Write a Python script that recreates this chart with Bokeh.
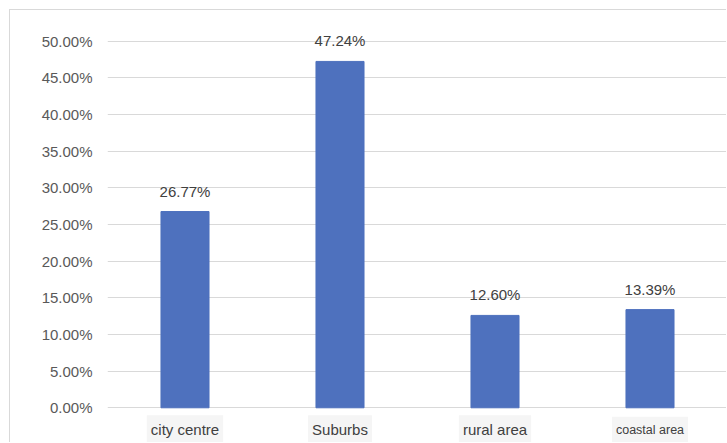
from bokeh.plotting import figure
from bokeh.models import ColumnDataSource, LabelSet, Label, NumeralTickFormatter, FactorRange, Range1d, FixedTicker
from bokeh.core.properties import value
from bokeh.embed import file_html
from bokeh.resources import INLINE

categories = ["city centre", "Suburbs", "rural area", "coastal area"]
shares = [0.2677, 0.4724, 0.1260, 0.1339]
value_labels = ["26.77%", "47.24%", "12.60%", "13.39%"]
category_font_sizes = ["15px", "15px", "15px", "12.5px"]
y_ticks = [0.0, 0.05, 0.10, 0.15, 0.20, 0.25, 0.30, 0.35, 0.40, 0.45, 0.50]

src = ColumnDataSource(dict(cat=categories, share=shares, label=value_labels))

FONT = "Liberation Sans"

x_range = FactorRange(*categories, range_padding=0)
p = figure(x_range=x_range,
           y_range=Range1d(-0.0487, 0.5405),
           width=717, height=433,
           output_backend="svg", toolbar_location=None,
           min_border_left=97, min_border_top=1, min_border_bottom=0, min_border_right=0)
p.margin = (9, 0, 0, 9)
p.styles = {"border-left": "1px solid #d9d9d9", "border-top": "1px solid #d9d9d9"}
p.outline_line_color = None
p.background_fill_color = "white"
p.border_fill_color = "white"

p.vbar(x="cat", top="share", width=0.31, source=src, color="#4e71be")

p.xgrid.grid_line_color = None
p.ygrid.grid_line_color = "#d9d9d9"
p.ygrid.grid_line_width = 1
p.ygrid.ticker = FixedTicker(ticks=y_ticks)

p.yaxis.ticker = FixedTicker(ticks=y_ticks)
p.yaxis.formatter = NumeralTickFormatter(format="0.00%")
p.yaxis.axis_line_color = None
p.yaxis.major_tick_line_color = None
p.yaxis.minor_tick_line_color = None
p.yaxis.major_tick_out = 0
p.yaxis.major_label_standoff = 15
p.yaxis.major_label_text_font = FONT
p.yaxis.major_label_text_font_size = "15px"
p.yaxis.major_label_text_color = "#595959"

p.xaxis.visible = False

value_set = LabelSet(x="cat", y="share", text="label", source=src,
                     y_offset=15, text_align="center", text_baseline="alphabetic",
                     text_font=value(FONT), text_font_size=value("15px"), text_color="#404040")
p.add_layout(value_set)

# category labels with a light box; a factor's synthetic position is its index + 0.5
for i, (cat, fs) in enumerate(zip(categories, category_font_sizes)):
    p.add_layout(Label(x=i + 0.5, y=0, text=cat,
                       y_offset=-22, text_align="center", text_baseline="middle",
                       text_font=FONT, text_font_size=fs, text_color="#404040",
                       background_fill_color="#f5f5f5", padding=(4, 6)))

open("out.html", "w").write(file_html(p, INLINE))
